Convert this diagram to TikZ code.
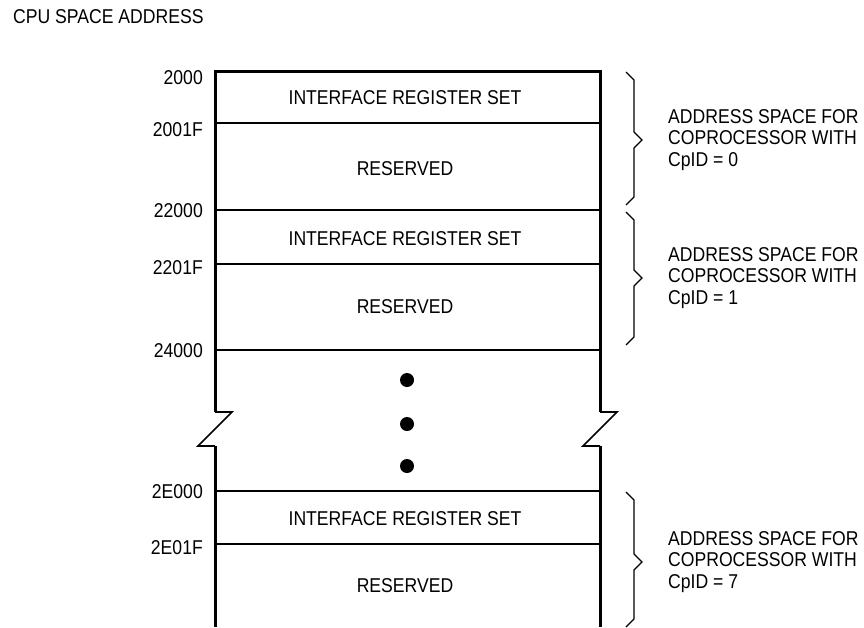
\documentclass[tikz,border=0pt]{standalone}
\usepackage{fontspec}
\setmainfont{Liberation Sans}[FakeStretch=0.88]
\usetikzlibrary{positioning}
\begin{document}
\begin{tikzpicture}[x=1pt, y=-1pt,
    txt/.style={font=\fontsize{20}{21.5}\selectfont, inner sep=0pt},
    addr/.style={txt, anchor=east},
    note/.style={txt, anchor=west, align=left},
    wall/.style={line width=3pt},
    sep/.style={line width=1.4pt},
    zig/.style={line width=1.6pt},
    brace/.style={line width=1.2pt},
    dot/.style={circle, fill, inner sep=0pt, minimum size=14pt}
]
\useasboundingbox (0,0) rectangle (864,627);

% Title
\node[txt, anchor=west] (title) at (13,17) {CPU SPACE ADDRESS};

% Memory column with break
\draw[wall] (215,412) -- (215,71) -- (600,71) -- (600,412);
\draw[wall] (215,446) -- (215,627);
\draw[wall] (600,446) -- (600,627);
\draw[zig] (215,412) -- (232,412) -- (198,446) -- (215,446);
\draw[zig] (600,412) -- (617,412) -- (583,446) -- (600,446);

% Dividers
\draw[sep] (215,123) -- (600,123);
\draw[sep] (215,210) -- (600,210);
\draw[sep] (215,264) -- (600,264);
\draw[sep] (215,350) -- (600,350);
\draw[sep] (215,491) -- (600,491);
\draw[sep] (215,544) -- (600,544);

% Block contents
\node[txt] (irs0) at (405,98) {INTERFACE REGISTER SET};
\node[txt] (res0) at (405,169) {RESERVED};
\node[txt] (irs1) at (405,239) {INTERFACE REGISTER SET};
\node[txt] (res1) at (405,307) {RESERVED};
\node[txt] (irs7) at (405,519) {INTERFACE REGISTER SET};
\node[txt] (res7) at (405,586) {RESERVED};

\node[dot] (dot1) at (407,380) {};
\node[dot] (dot2) at (407,424) {};
\node[dot] (dot3) at (407,466) {};

% Addresses
\node[addr] (a2000) at (203,78) {2000};
\node[addr] (a2001F) at (203,130) {2001F};
\node[addr] (a22000) at (203,211) {22000};
\node[addr] (a2201F) at (203,268) {2201F};
\node[addr] (a24000) at (203,351) {24000};
\node[addr] (a2E000) at (203,492) {2E000};
\node[addr] (a2E01F) at (203,548) {2E01F};

% Braces
\draw[brace] (626,72) -- (634,80) -- (634,132) -- (642,140) coordinate (tip0)
  -- (634,148) -- (634,197) -- (626,205);
\draw[brace] (626,212) -- (634,220) -- (634,270) -- (642,278) coordinate (tip1)
  -- (634,286) -- (634,337) -- (626,345);
\draw[brace] (626,492) -- (634,500) -- (634,554) -- (642,562) coordinate (tip7)
  -- (634,570) -- (634,619) -- (626,627);

\node[note, right=26pt of tip0] (cp0) {ADDRESS SPACE FOR\\COPROCESSOR WITH\\CpID = 0};
\node[note, right=26pt of tip1] (cp1) {ADDRESS SPACE FOR\\COPROCESSOR WITH\\CpID = 1};
\node[note, right=26pt of tip7] (cp7) {ADDRESS SPACE FOR\\COPROCESSOR WITH\\CpID = 7};

\end{tikzpicture}
\end{document}
